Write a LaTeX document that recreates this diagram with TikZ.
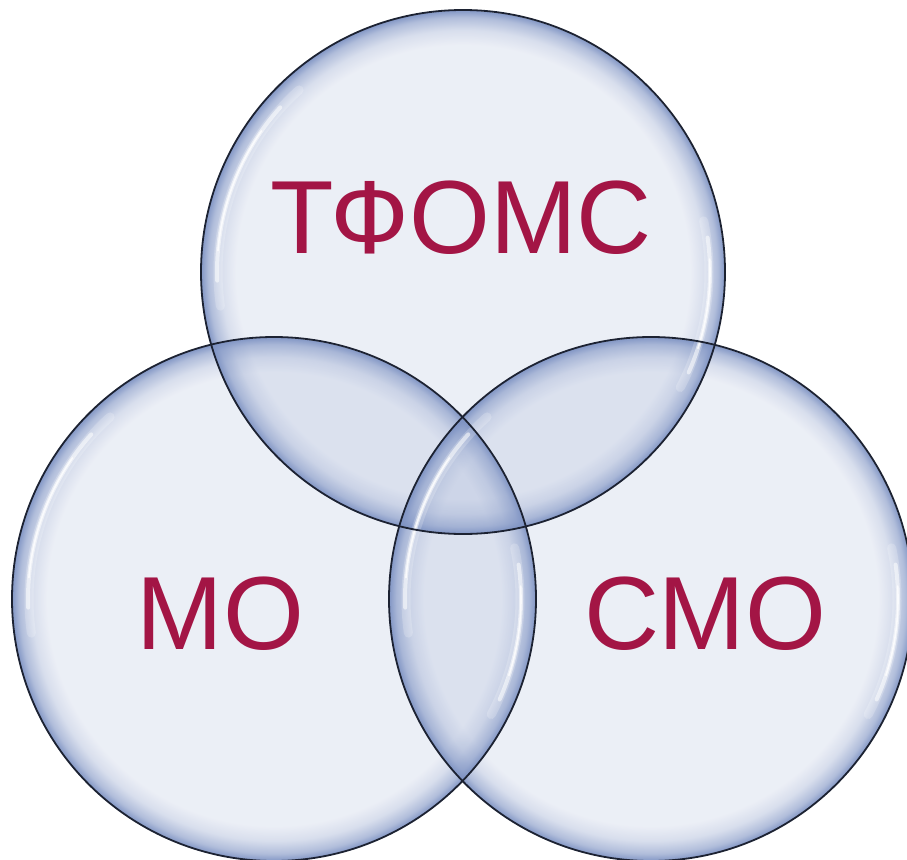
\documentclass[tikz,border=0pt]{standalone}
\usepackage{fontspec}
\setmainfont{Liberation Sans}
\usetikzlibrary{fadings}
\definecolor{bubblecol}{RGB}{124,145,194}
\definecolor{rimline}{RGB}{28,34,50}
\definecolor{labelred}{RGB}{163,21,69}
\pgfdeclareradialshading{bubblemaskshade}{\pgfpointorigin}{%
  color(0bp)=(pgftransparent!85);
  color(21.6bp)=(pgftransparent!85);
  color(23bp)=(pgftransparent!70);
  color(24.2bp)=(pgftransparent!40);
  color(24.8bp)=(pgftransparent!10);
  color(25bp)=(pgftransparent!3);
  color(50bp)=(pgftransparent!3)}
\pgfdeclarefading{bubblefade}{\pgfuseshading{bubblemaskshade}}
\tikzset{
  bubblefill/.style={fill=bubblecol, path fading=bubblefade},
  bubbleline/.style={draw=rimline, line width=1.8pt},
  shine/.style={draw=white, line cap=round},
  lbl/.style={text=labelred, font=\fontsize{104}{110}\selectfont, inner sep=0pt, anchor=base}
}
\begin{document}
\begin{tikzpicture}[x=1pt,y=-1pt]
\useasboundingbox (0,0) rectangle (907,859);
\clip (0,0) rectangle (907,859);
% circles centres
\coordinate (ct) at (463,272);
\coordinate (cl) at (274,599);
\coordinate (cr) at (651,599);
% bubble bodies
\foreach \c in {ct,cl,cr}{
  \fill[bubblefill] (\c) circle[radius=262];
}
% highlights (angles measured with y pointing down)
\foreach \c in {ct,cl,cr}{
  \draw[shine, line width=9pt, opacity=0.2] ([shift={(-188:245)}]\c) arc[start angle=-188, end angle=-132, radius=245];
  \draw[shine, line width=4pt, opacity=0.55] ([shift={(-182:246)}]\c) arc[start angle=-182, end angle=-138, radius=246];
  \draw[shine, line width=1.6pt, opacity=0.8] ([shift={(-175:246)}]\c) arc[start angle=-175, end angle=-145, radius=246];
  \draw[shine, line width=9pt, opacity=0.2] ([shift={(-12:246)}]\c) arc[start angle=-12, end angle=28, radius=246];
  \draw[shine, line width=4pt, opacity=0.55] ([shift={(-8:247)}]\c) arc[start angle=-8, end angle=24, radius=247];
  \draw[shine, line width=1.6pt, opacity=0.8] ([shift={(-3:247)}]\c) arc[start angle=-3, end angle=18, radius=247];
}
% outlines
\foreach \c in {ct,cl,cr}{
  \draw[bubbleline] (\c) circle[radius=262];
}
% labels
\node[lbl] (tfoms) at (461,253) {ТФОМС};
\node[lbl] (mo) at (220.5,649) {МО};
\node[lbl] (smo) at (705.5,649) {СМО};
\end{tikzpicture}
\end{document}
